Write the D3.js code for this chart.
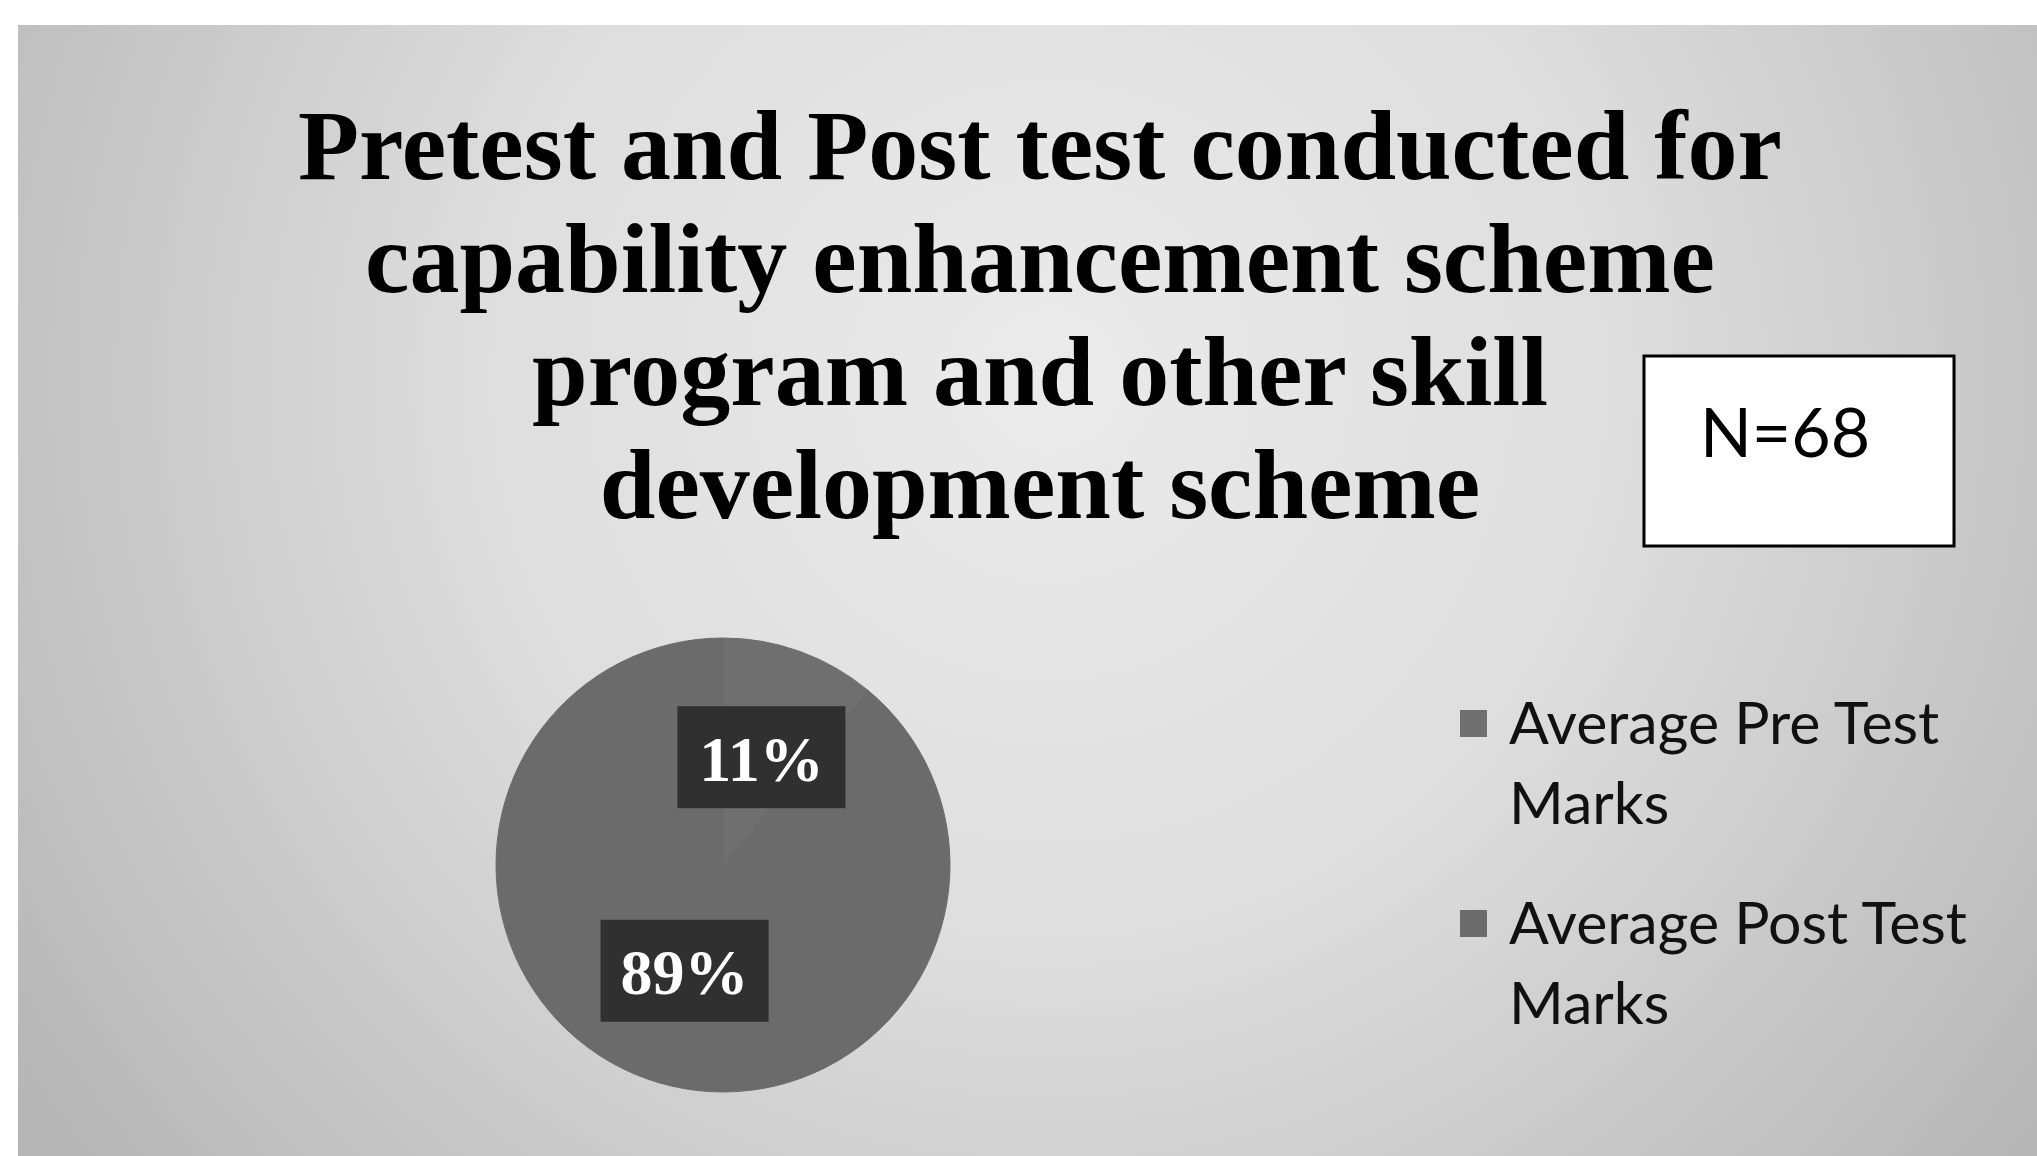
<!DOCTYPE html>
<html>
<head>
<meta charset="utf-8">
<script src="https://cdn.jsdelivr.net/npm/d3@7"></script>
<style>
  html, body { margin: 0; padding: 0; background: #fff; }
  svg { display: block; }
</style>
</head>
<body>
<div id="chart"></div>
<script>
// chart data
const titleLines = [
  "Pretest and Post test conducted for",
  "capability enhancement scheme",
  "program and other skill",
  "development scheme"
];
const categories = ["Average Pre Test Marks", "Average Post Test Marks"];
const legendLines = [["Average Pre Test", "Marks"], ["Average Post Test", "Marks"]];
const values = [11, 89];
const sampleNote = "N=68";

const width = 2037, height = 1156;

const svg = d3.select("#chart")
    .append("svg")
    .attr("width", width)
    .attr("height", height);

// background, lighter in the upper middle and darker toward the edges
const defs = svg.append("defs");
const grad = defs.append("radialGradient")
    .attr("id", "bg")
    .attr("gradientUnits", "userSpaceOnUse")
    .attr("cx", 1050).attr("cy", 380).attr("r", 1250);
grad.append("stop").attr("offset", "0%").attr("stop-color", "#ebebeb");
grad.append("stop").attr("offset", "45%").attr("stop-color", "#dedede");
grad.append("stop").attr("offset", "100%").attr("stop-color", "#b6b6b6");

svg.append("rect")
    .attr("x", 18).attr("y", 25)
    .attr("width", width - 18).attr("height", height - 25)
    .attr("fill", "url(#bg)");

// title
svg.append("g")
    .selectAll("text")
    .data(titleLines)
    .enter()
    .append("text")
    .attr("x", 1040)
    .attr("y", (d, i) => 179 + i * 113)
    .attr("text-anchor", "middle")
    .style("font-family", "'Liberation Serif', 'Times New Roman', serif")
    .style("font-weight", "bold")
    .style("font-size", "100px")
    .attr("fill", "#000")
    .text(d => d);

// N box
svg.append("rect")
    .attr("x", 1644).attr("y", 356)
    .attr("width", 310).attr("height", 190)
    .attr("fill", "#fff")
    .attr("stroke", "#000")
    .attr("stroke-width", 3);
svg.append("text")
    .attr("x", 1785).attr("y", 457)
    .attr("text-anchor", "middle")
    .style("font-family", "Lato, 'Noto Sans', sans-serif")
    .style("font-size", "68px")
    .attr("fill", "#000")
    .text(sampleNote);

// pie
const color = d3.scaleOrdinal()
    .domain(categories)
    .range(["#6f6f6f", "#6b6b6b"]);

const radius = 227;
const pie = d3.pie().sort(null).value(d => d);
const arc = d3.arc().innerRadius(0).outerRadius(radius);
const labelArc = d3.arc().innerRadius(0).outerRadius(radius);

const g = svg.append("g")
    .attr("transform", "translate(" + 723 + "," + 865 + ")");

const arcs = pie(values);

g.selectAll("path")
    .data(arcs)
    .enter()
    .append("path")
    .attr("d", arc)
    .attr("fill", (d, i) => color(categories[i]))
    .attr("stroke", (d, i) => color(categories[i]))
    .attr("stroke-width", 1);

// data labels with dark boxes
const labels = g.selectAll("g.lbl")
    .data(arcs)
    .enter()
    .append("g")
    .attr("class", "lbl")
    .attr("transform", d => "translate(" + labelArc.centroid(d) + ")");

labels.append("rect")
    .attr("x", -84).attr("y", -52)
    .attr("width", 168).attr("height", 102)
    .attr("fill", "#262626")
    .attr("opacity", 0.85);

labels.append("text")
    .attr("text-anchor", "middle")
    .attr("dy", "0.35em")
    .style("font-family", "'Liberation Serif', 'Times New Roman', serif")
    .style("font-weight", "bold")
    .style("font-size", "64px")
    .attr("fill", "#fff")
    .text(d => d.data + "%");

// legend
const legend = svg.append("g")
    .selectAll("g")
    .data(categories)
    .enter()
    .append("g")
    .attr("transform", (d, i) => "translate(" + 1460 + "," + (744 + i * 200) + ")");

legend.append("rect")
    .attr("x", 0).attr("y", -34)
    .attr("width", 27).attr("height", 27)
    .attr("fill", d => color(d));

legend.append("text")
    .style("font-family", "Lato, 'Noto Sans', sans-serif")
    .style("font-size", "59px")
    .attr("fill", "#111")
    .selectAll("tspan")
    .data((d, i) => legendLines[i])
    .enter()
    .append("tspan")
    .attr("x", 49)
    .attr("y", (d, j) => j * 80)
    .text(d => d);
</script>
</body>
</html>
